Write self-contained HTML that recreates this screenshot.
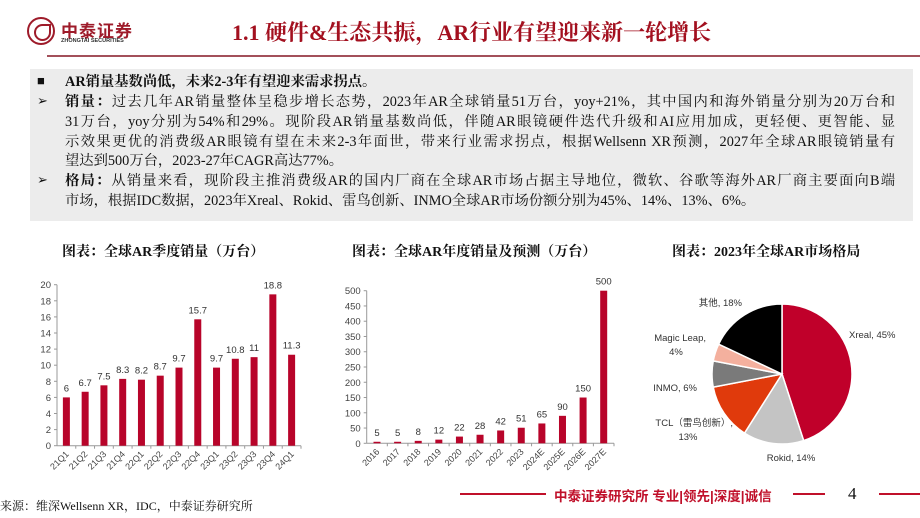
<!DOCTYPE html>
<html><head><meta charset="utf-8">
<style>
html,body{margin:0;padding:0;}
body{width:920px;height:518px;position:relative;overflow:hidden;background:#fff;font-family:"Liberation Serif","Noto Serif CJK SC",serif;}
.abs{position:absolute;}
#box{left:30px;top:69px;width:883px;height:152px;background:#ececec;}
.ln{position:absolute;left:65px;width:830px;font-size:14.3px;line-height:20px;color:#111;text-align:justify;text-align-last:justify;white-space:nowrap;}
.ln.last{text-align-last:left;}
.bul{position:absolute;left:37px;font-size:13px;color:#111;}
.ct{position:absolute;top:241px;font-size:14px;font-weight:bold;color:#111;white-space:nowrap;}
svg text{font-family:"Liberation Sans","Noto Sans CJK SC",sans-serif;}
</style></head>
<body>
<div class="abs" style="left:27px;top:17px;width:28px;height:28px;border-radius:50%;border:2.5px solid #9e1b2a;box-sizing:border-box;">
 <div style="position:absolute;left:5px;top:5px;width:13px;height:13px;border:2px solid #9e1b2a;border-radius:50% 0 50% 50%;"></div>
</div>
<div class="abs" style="left:61px;top:17px;font-family:'Liberation Sans','Noto Sans CJK SC',sans-serif;font-weight:bold;font-size:17px;color:#9e1b2a;letter-spacing:1px;">中泰证券</div>
<div class="abs" style="left:61px;top:38px;font-family:'Liberation Sans',sans-serif;font-weight:bold;font-size:5.5px;color:#333;">ZHONGTAI SECURITIES</div>
<div class="abs" style="left:232px;top:16px;font-size:22px;font-weight:bold;color:#a3101f;white-space:nowrap;font-family:'Liberation Serif','Noto Serif CJK SC',serif;">1.1 硬件&amp;生态共振，AR行业有望迎来新一轮增长</div>
<div class="abs" style="left:47px;top:55px;width:873px;height:2px;background:#a3505a;"></div>

<div class="abs" id="box"></div>
<div class="bul" style="top:73px;">■</div>
<div class="ln last" style="top:72px;font-weight:bold;">AR销量基数尚低，未来2-3年有望迎来需求拐点。</div>
<div class="bul" style="top:93px;">➢</div>
<div class="ln" style="top:92px;"><b>销量：</b>过去几年AR销量整体呈稳步增长态势，2023年AR全球销量51万台，yoy+21%，其中国内和海外销量分别为20万台和</div>
<div class="ln" style="top:112px;">31万台，yoy分别为54%和29%。现阶段AR销量基数尚低，伴随AR眼镜硬件迭代升级和AI应用加成，更轻便、更智能、显</div>
<div class="ln" style="top:132px;">示效果更优的消费级AR眼镜有望在未来2-3年面世，带来行业需求拐点，根据Wellsenn XR预测，2027年全球AR眼镜销量有</div>
<div class="ln last" style="top:151px;">望达到500万台，2023-27年CAGR高达77%。</div>
<div class="bul" style="top:172px;">➢</div>
<div class="ln" style="top:171px;"><b>格局：</b>从销量来看，现阶段主推消费级AR的国内厂商在全球AR市场占据主导地位，微软、谷歌等海外AR厂商主要面向B端</div>
<div class="ln last" style="top:191px;">市场，根据IDC数据，2023年Xreal、Rokid、雷鸟创新、INMO全球AR市场份额分别为45%、14%、13%、6%。</div>

<div class="ct" style="left:62px;">图表：全球AR季度销量（万台）</div>
<div class="ct" style="left:352px;">图表：全球AR年度销量及预测（万台）</div>
<div class="ct" style="left:672px;">图表：2023年全球AR市场格局</div>

<svg id="c1" class="abs" style="left:0;top:0" width="920" height="518"></svg>

<div class="abs" style="left:0;top:497px;font-size:12px;color:#111;font-family:'Liberation Serif','Noto Serif CJK SC',serif;">来源：维深Wellsenn XR，IDC，中泰证券研究所</div>
<div class="abs" style="left:460px;top:493px;width:86px;height:2px;background:#c0102a;"></div>
<div class="abs" style="left:554px;top:485px;font-size:13.5px;font-weight:bold;color:#c0102a;font-family:'Liberation Sans','Noto Sans CJK SC',sans-serif;white-space:nowrap;">中泰证券研究所 专业|领先|深度|诚信</div>
<div class="abs" style="left:793px;top:493px;width:32px;height:2px;background:#c0102a;"></div>
<div class="abs" style="left:848px;top:484px;font-size:17px;color:#111;">4</div>
<div class="abs" style="left:879px;top:493px;width:41px;height:2px;background:#c0102a;"></div>

<script>
const qCats=["21Q1","21Q2","21Q3","21Q4","22Q1","22Q2","22Q3","22Q4","23Q1","23Q2","23Q3","23Q4","24Q1"];
const qVals=[6,6.7,7.5,8.3,8.2,8.7,9.7,15.7,9.7,10.8,11,18.8,11.3];
const qTicks=[0,2,4,6,8,10,12,14,16,18,20];
const yCats=["2016","2017","2018","2019","2020","2021","2022","2023","2024E","2025E","2026E","2027E"];
const yVals=[5,5,8,12,22,28,42,51,65,90,150,500];
const yTicks=[0,50,100,150,200,250,300,350,400,450,500];
const pieLabels=["Xreal, 45%","Rokid, 14%","TCL（雷鸟创新）, 13%","INMO, 6%","Magic Leap, 4%","其他, 18%"];
const pieVals=[45,14,13,6,4,18];
const pieColors=["#c0002a","#c4c4c4","#e03a0c","#7a7a7a","#f4b09e","#000000"];

const NS="http://www.w3.org/2000/svg";
const svg=document.getElementById('c1');
function mk(t,a,p){const e=document.createElementNS(NS,t);for(const k in a)e.setAttribute(k,a[k]);(p||svg).appendChild(e);return e;}

function barChart(cfg){
  const {cats,vals,ticks,x0,x1,y0,y1,max,bw,name}=cfg;
  const yS=v=>y0-(v/max)*(y0-y1);
  const step=(x1-x0)/cats.length;
  const xS=i=>x0+step*(i+0.5);
  const g=mk('g',{});
  
  
  mk('line',{x1:x0,y1:y0,x2:x0,y2:y1,stroke:'#999','stroke-width':1},g);
  mk('line',{x1:x0,y1:y0,x2:x1,y2:y0,stroke:'#999','stroke-width':1},g);
  ticks.forEach(t=>{
    mk('line',{x1:x0-3,y1:yS(t),x2:x0,y2:yS(t),stroke:'#999'},g);
    const tx=mk('text',{x:x0-6,y:yS(t)+3.5,'font-size':9.5,fill:'#444','text-anchor':'end'},g);
    tx.textContent=t;
    
    
  });
  cats.forEach((c,i)=>{
    const v=vals[i];
    const r=mk('rect',{x:xS(i)-bw/2,y:yS(v),width:bw,height:y0-yS(v),fill:'#b8042a'},g);
    
    
    const lb=mk('text',{x:xS(i),y:yS(v)-6,'font-size':9.5,fill:'#333','text-anchor':'middle'},g);
    lb.textContent=v;
    
    
    mk('line',{x1:x0+step*(i+1),y1:y0,x2:x0+step*(i+1),y2:y0+3,stroke:'#999'},g);
    const cx=xS(i)+3,cy=y0+9;
    const cl=mk('text',{x:cx,y:cy,'font-size':9,fill:'#444','text-anchor':'end',transform:`rotate(-45 ${cx} ${cy})`},g);
    cl.textContent=c;
    
    
  });
}
barChart({cats:qCats,vals:qVals,ticks:qTicks,x0:57,x1:301,y0:445.7,y1:284.7,max:20,bw:7,name:'quarterly-sales-chart'});
barChart({cats:yCats,vals:yVals,ticks:yTicks,x0:366.7,x1:614,y0:443.3,y1:290.7,max:500,bw:7,name:'annual-sales-chart'});

// pie
const cx=782,cy=374,R=70;
const pg=mk('g',{});


const tot=pieVals.reduce((a,b)=>a+b,0);
let ang=0;
const labelPos=[[686,333,'start'],[791,458,'middle'],[716,417,'end'],[711,389,'end'],[707,344,'end'],[742,305,'end']];
pieVals.forEach((v,i)=>{
  const a0=ang,a1=ang+v/tot*2*Math.PI;ang=a1;
  const p=a=>[cx+R*Math.sin(a),cy-R*Math.cos(a)];
  const [sx,sy]=p(a0),[ex,ey]=p(a1);
  const large=(a1-a0)>Math.PI?1:0;
  const s=mk('path',{d:`M${cx},${cy} L${sx},${sy} A${R},${R} 0 ${large} 1 ${ex},${ey} Z`,fill:pieColors[i],stroke:'#fff','stroke-width':1.5},pg);
  
  
});
const lines=[["Xreal, 45%"],["Rokid, 14%"],["TCL（雷鸟创新）,","13%"],["INMO, 6%"],["Magic Leap,","4%"],["其他, 18%"]];
const lp=[[849,338,'start'],[791,461,'middle'],[733,426,'end'],[697,391,'end'],[706,341,'end'],[742,306,'end']];
lines.forEach((ls,i)=>{
  ls.forEach((t,j)=>{
    const anchor=lp[i][2];
    const x=(ls.length>1&&j==1)?lp[i][0]-(anchor=='end'?(i==2?45:30):0):lp[i][0];
    const tx=mk('text',{x:x,y:lp[i][1]+j*14,'font-size':9.5,fill:'#333','text-anchor':(ls.length>1&&j==1)?'middle':anchor},pg);
    tx.textContent=t;
    
    
  });
});
</script>
</body></html>
